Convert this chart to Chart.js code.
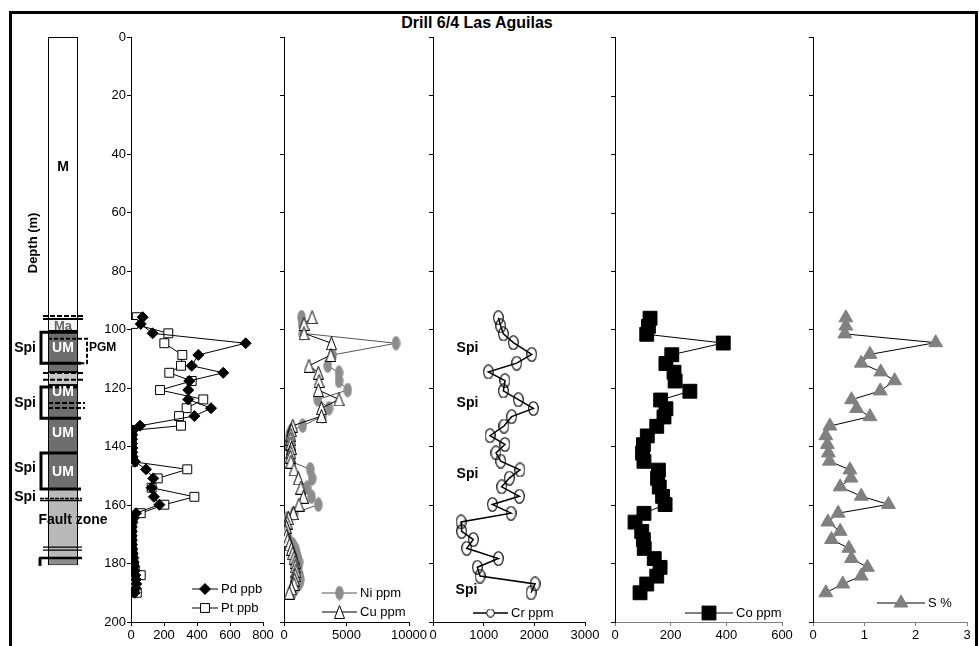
<!DOCTYPE html>
<html>
<head>
<meta charset="UTF-8">
<title>Drill 6/4 Las Aguilas</title>
<script src="https://cdn.jsdelivr.net/npm/chart.js@4.4.0/dist/chart.umd.min.js"></script>
<style>
  body { margin: 0; background: #fff; }
  #wrap { position: relative; width: 979px; height: 646px; overflow: hidden; }
  #frame { position: absolute; left: 9px; top: 11px; width: 963px; height: 700px; border: 3px solid #000; }
  #title { position: absolute; left: 377px; width: 200px; top: 14px; line-height: 16px; text-align: center;
           font: bold 16px "Liberation Sans", Arial, sans-serif; }
  canvas { position: absolute; }
</style>
</head>
<body>
<div id="wrap">
  <div id="frame"></div>
  <div id="title">Drill 6/4 Las Aguilas</div>
  <canvas id="litho"></canvas>
  <canvas id="p1"></canvas>
  <canvas id="p2"></canvas>
  <canvas id="p3"></canvas>
  <canvas id="p4"></canvas>
  <canvas id="p5"></canvas>
</div>
<script>
// PGE + base metal samples (m)
const pgeDepth = [95.8, 98.1, 101.3, 104.7, 108.7, 112.4, 114.8, 117.6, 120.7, 123.9, 126.9, 129.6, 132.9,
  134.5, 136, 137.5, 139, 140.5, 142, 143.5, 145.2, 147.8, 150.9, 154.1, 157.2, 159.9, 162.8,
  164.5, 166, 167.5, 169, 170.5, 172, 173.5, 175, 176.5, 178, 179.5, 181, 182.5, 184, 185.5, 187, 188.5, 190];
const pdPpb = [71, 59, 131, 695, 408, 368, 559, 353, 347, 347, 485, 384, 55,
  12, 8, 6, 6, 8, 8, 10, 24, 91, 135, 125, 139, 172, 30,
  15, 8, 5, 5, 4, 5, 6, 8, 10, 14, 16, 20, 22, 26, 30, 32, 28, 22];
const ptPpb = [35, 14, 226, 202, 311, 303, 232, 368, 176, 438, 337, 291, 303,
  5, 3, 3, 3, 3, 4, 5, 12, 341, 162, 125, 384, 202, 59,
  10, 3, 2, 2, 2, 3, 3, 5, 8, 10, 14, 18, 22, 59, 20, 25, 22, 35];
const niPpm = [1400, 1450, 1500, 8960, 3900, 3500, 4400, 4400, 5100, 2700, 3600, 3100, 1500,
  600, 450, 450, 400, 450, 500, 550, 600, 2100, 2250, 1850, 2200, 2750, 800,
  300, 200, 150, 150, 200, 400, 700, 900, 1000, 1100, 1200, 1150, 1100, 1250, 1300, 1200, 900, 700];
const cuPpm = [2250, 1600, 1600, 3800, 3750, 2000, 2750, 2800, 2750, 4400, 3000, 3000, 700,
  600, 550, 550, 550, 600, 550, 500, 550, 800, 1150, 1350, 1550, 1200, 750,
  350, 250, 200, 150, 200, 300, 450, 600, 700, 800, 880, 900, 950, 900, 850, 800, 600, 420];

// Cr, Co, S samples (m)
const depth = [96, 98.8, 101.5, 104.5, 108.5, 111.5, 114.5, 117.5, 121, 124, 127, 129.8, 133, 136.3, 139.3, 142.2,
  145, 148, 150.8, 153.8, 157, 159.8, 162.8, 165.8, 169, 171.8, 174.8, 178.3, 181.3, 184.3, 187, 190];
const crPpm = [1290, 1336, 1389, 1586, 1948, 1652, 1092, 1421, 1389, 1685, 1981, 1553, 1401, 1125, 1421, 1243,
  1336, 1717, 1507, 1356, 1704, 1171, 1540, 553, 566, 796, 665, 1290, 875, 928, 2014, 1935];
const coPpm = [126, 120, 114, 389, 204, 183, 212, 216, 269, 164, 183, 176, 150, 116, 102, 99,
  104, 156, 153, 159, 171, 180, 104, 72, 96, 102, 105, 141, 162, 150, 114, 90];
const sPct = [0.64, 0.64, 0.62, 2.39, 1.11, 0.94, 1.32, 1.59, 1.31, 0.75, 0.85, 1.11, 0.33, 0.25, 0.28, 0.30,
  0.32, 0.72, 0.74, 0.53, 0.94, 1.47, 0.49, 0.29, 0.53, 0.36, 0.70, 0.75, 1.06, 0.94, 0.58, 0.25];

// axes
const depthMax = 200, depthStep = 20;
const xMax = [800, 10000, 3000, 600, 3];
const xStep = [200, 5000, 1000, 200, 1];

// lithology log (m)
const unitName = ['M', 'Ma', 'UM', 'band', 'UM', 'Fault zone', 'base'];
const unitTop  = [0, 96.4, 100.5, 114.5, 119, 154.5, 178.1];
const unitBase = [96.4, 100.5, 114.5, 119, 154.5, 178.1, 180.6];
const spiTop  = [100.9, 119.7, 142.2];
const spiBase = [111.5, 130.3, 154.5];
const pgmZone = [103.2, 111.5];

const FONT = '"Liberation Sans", Arial, sans-serif';
const T = 37, B = 622;              // plot top / bottom on the page
const padT = 10, padB = 24, padL = 40, padR = 22;

function xy(xs, ys) { return xs.map((v, i) => ({ x: v, y: ys[i] })); }

function marker(w, h, draw) {
  const c = document.createElement('canvas');
  c.width = w; c.height = h;
  draw(c.getContext('2d'), w, h);
  return c;
}
const niMark = marker(9, 15, (g, w, h) => {
  g.fillStyle = '#8c8c8c'; g.beginPath();
  g.ellipse(w / 2, h / 2, w / 2 - 0.3, h / 2 - 0.3, 0, 0, 2 * Math.PI); g.fill();
});
const cuMark = marker(11, 14, (g, w, h) => {
  g.fillStyle = '#fff'; g.strokeStyle = '#000'; g.lineWidth = 1;
  g.beginPath(); g.moveTo(w / 2, 0.5); g.lineTo(w - 0.5, h - 0.5); g.lineTo(0.5, h - 0.5); g.closePath();
  g.fill(); g.stroke();
});
const crMark = marker(11, 15, (g, w, h) => {
  g.strokeStyle = '#000'; g.lineWidth = 1.1; g.beginPath();
  g.ellipse(w / 2, h / 2, w / 2 - 0.7, h / 2 - 0.7, 0, 0, 2 * Math.PI); g.stroke();
});
const crSmall = marker(9, 9, (g, w, h) => {
  g.fillStyle = '#fff'; g.strokeStyle = '#000'; g.lineWidth = 1; g.beginPath();
  g.ellipse(w / 2, h / 2, w / 2 - 0.6, h / 2 - 0.6, 0, 0, 2 * Math.PI); g.fill(); g.stroke();
});

// legend inside the plot: line - marker - label
const sideLegend = {
  id: 'sideLegend',
  afterDraw(chart, args, opts) {
    if (!opts.items) return;
    const ctx = chart.ctx, a = chart.chartArea;
    ctx.save();
    ctx.font = '13px ' + FONT;
    ctx.textBaseline = 'middle';
    opts.items.forEach(it => {
      const ds = chart.data.datasets[it.ds];
      const x0 = a.left + it.dx, y = a.bottom + it.dy;
      ctx.strokeStyle = ds.borderColor; ctx.lineWidth = ds.borderWidth;
      ctx.beginPath(); ctx.moveTo(x0, y); ctx.lineTo(x0 + it.len, y); ctx.stroke();
      ctx.fillStyle = ds.pointBackgroundColor; ctx.strokeStyle = ds.pointBorderColor;
      ctx.lineWidth = ds.pointBorderWidth;
      Chart.helpers.drawPoint(ctx, { pointStyle: it.mark || ds.pointStyle, radius: ds.pointRadius,
        borderWidth: ds.pointBorderWidth, rotation: 0 }, x0 + it.len / 2, y);
      ctx.fillStyle = '#000';
      ctx.fillText(ds.label, x0 + it.len + 3, y);
    });
    ctx.restore();
  }
};

// text notes at data positions
const notes = {
  id: 'notes',
  afterDraw(chart, args, opts) {
    if (!opts.items || !opts.items.length) return;
    const ctx = chart.ctx;
    ctx.save();
    ctx.font = 'bold 14px ' + FONT;
    ctx.fillStyle = '#000'; ctx.textAlign = 'center'; ctx.textBaseline = 'middle';
    opts.items.forEach(n => {
      ctx.fillText(n.text, chart.scales.x.getPixelForValue(n.x), chart.scales.y.getPixelForValue(n.y));
    });
    ctx.restore();
  }
};

function panel(id, k, left, right, datasets, opts) {
  const cv = document.getElementById(id);
  cv.width = right - left + padL + padR;
  cv.height = (B - T) + padT + padB;
  cv.style.left = (left - padL) + 'px';
  cv.style.top = (T - padT) + 'px';
  const axisColor = opts.axisColor || '#000';
  return new Chart(cv, {
    type: 'scatter',
    data: { datasets },
    options: {
      responsive: false, animation: false, events: [],
      layout: { padding: { top: padT, right: padR, left: 0, bottom: 0 } },
      plugins: {
        legend: { display: false }, tooltip: { enabled: false },
        sideLegend: { items: opts.legend }, notes: { items: opts.notes || [] }
      },
      scales: {
        x: {
          type: 'linear', position: 'bottom', min: 0, max: xMax[k],
          afterFit: s => { s.height = padB; },
          ticks: { stepSize: xStep[k], autoSkip: false, maxRotation: 0, padding: 2, color: '#000',
                   font: { family: FONT, size: 13 }, callback: v => String(v) },
          grid: { drawOnChartArea: false, tickLength: 4, color: axisColor },
          border: { color: axisColor }
        },
        y: {
          type: 'linear', position: 'left', reverse: true, min: 0, max: depthMax,
          afterFit: s => { s.width = padL; },
          ticks: { stepSize: depthStep, display: !!opts.yLabels, padding: 1, color: '#000',
                   font: { family: FONT, size: 13 } },
          grid: { drawOnChartArea: false, tickLength: 4, color: '#000' },
          border: { color: '#000' }
        }
      }
    },
    plugins: [sideLegend, notes]
  });
}

function series(label, xs, ys, style) {
  return Object.assign({ label, data: xy(xs, ys), showLine: true, borderColor: '#000', borderWidth: 1,
    pointBorderWidth: 1, pointBorderColor: '#000', pointBackgroundColor: '#000' }, style);
}

panel('p1', 0, 131, 263, [
  series('Pd ppb', pdPpb, pgeDepth, { pointStyle: 'rectRot', pointRadius: 5.5 }),
  series('Pt ppb', ptPpb, pgeDepth, { pointStyle: 'rect', pointRadius: 6.3, pointBackgroundColor: '#fff' })
], { yLabels: true, legend: [{ ds: 0, dx: 61, dy: -33, len: 26 }, { ds: 1, dx: 61, dy: -14, len: 26 }] });

panel('p2', 1, 284, 409, [
  series('Ni ppm', niPpm, pgeDepth, { pointStyle: niMark, pointRadius: 5, borderColor: '#555', order: 1 }),
  series('Cu ppm', cuPpm, pgeDepth, { pointStyle: cuMark, pointRadius: 5, order: 0 })
], { legend: [{ ds: 0, dx: 38, dy: -29, len: 35 }, { ds: 1, dx: 38, dy: -10, len: 35 }] });

panel('p3', 2, 433, 585, [
  series('Cr ppm', crPpm, depth, { pointStyle: crMark, pointRadius: 6, borderWidth: 1.5 })
], { legend: [{ ds: 0, dx: 40, dy: -9, len: 35, mark: crSmall }],
     notes: [{ text: 'Spi', x: 680, y: 106.5 }, { text: 'Spi', x: 680, y: 125.1 },
             { text: 'Spi', x: 680, y: 149.5 }, { text: 'Spi', x: 660, y: 189 }] });

panel('p4', 3, 615, 782, [
  series('Co ppm', coPpm, depth, { pointStyle: 'rect', pointRadius: 9.8 })
], { axisColor: '#808080', legend: [{ ds: 0, dx: 70, dy: -9, len: 48 }] });

panel('p5', 4, 813, 967, [
  series('S %', sPct, depth, { pointStyle: 'triangle', pointRadius: 8, pointBackgroundColor: '#808080',
    pointBorderColor: '#808080' })
], { axisColor: '#808080', legend: [{ ds: 0, dx: 64, dy: -19, len: 48 }] });

// lithological column
const unitColor = { 'M': '#ffffff', 'Ma': '#f4f4f4', 'UM': '#6e6e6e', 'band': '#c8c8c8',
                    'Fault zone': '#b9b9b9', 'base': '#8c8c8c' };

const lithoDraw = {
  id: 'lithoDraw',
  afterDatasetsDraw(chart) {
    const ctx = chart.ctx, ys = chart.scales.y;
    const bar = chart.getDatasetMeta(0).data[0].getProps(['x', 'width'], true);
    const L = bar.x - bar.width / 2, R = bar.x + bar.width / 2, C = bar.x;
    const Y = d => ys.getPixelForValue(d);
    ctx.save();
    ctx.strokeStyle = '#000';
    function hline(d, x0, x1, w, dash) {
      ctx.setLineDash(dash || []); ctx.lineWidth = w;
      ctx.beginPath(); ctx.moveTo(x0, Y(d)); ctx.lineTo(x1, Y(d)); ctx.stroke();
    }
    // contacts
    hline(95.4, L - 5, R + 7, 2, [5, 2]);
    hline(96.4, L - 5, R + 7, 2, [5, 2]);
    hline(114.9, L - 5, R + 7, 2, [5, 2]);
    hline(117.2, L - 5, R + 7, 2, [5, 2]);
    hline(125.1, L, R + 7, 2, [5, 2]);
    hline(126.8, L, R + 7, 2, [5, 2]);
    hline(157.8, L - 8, R + 4, 1.5, [4, 1]);
    hline(158.5, L - 8, R + 4, 1.5);
    hline(174.4, L - 5, R + 4, 1.2);
    hline(175.4, L - 5, R + 4, 1.2);
    hline(178.1, L - 9, R + 4, 2.5);
    ctx.setLineDash([]); ctx.lineWidth = 3;
    ctx.beginPath(); ctx.moveTo(L - 8, Y(178.1)); ctx.lineTo(L - 8, Y(180.8)); ctx.stroke();
    // spinel brackets
    spiTop.forEach((t, i) => {
      ctx.lineWidth = 3; ctx.setLineDash([]);
      ctx.beginPath();
      ctx.moveTo(R, Y(t)); ctx.lineTo(L - 7, Y(t)); ctx.lineTo(L - 7, Y(spiBase[i])); ctx.lineTo(R + 3, Y(spiBase[i]));
      ctx.stroke();
    });
    // PGM zone
    ctx.lineWidth = 2; ctx.setLineDash([4, 2]);
    ctx.beginPath();
    ctx.moveTo(L, Y(pgmZone[0])); ctx.lineTo(R + 9, Y(pgmZone[0]));
    ctx.lineTo(R + 9, Y(pgmZone[1])); ctx.lineTo(R, Y(pgmZone[1]));
    ctx.stroke();
    ctx.setLineDash([]);
    // labels
    ctx.textBaseline = 'middle';
    ctx.textAlign = 'center';
    ctx.font = 'bold 14px ' + FONT;
    ctx.fillStyle = '#000';
    ctx.fillText('M', C, Y(44.4));
    ctx.font = 'bold 13px ' + FONT;
    ctx.fillStyle = '#666';
    ctx.fillText('Ma', C, Y(99));
    ctx.font = 'bold 14px ' + FONT;
    ctx.fillStyle = '#fff';
    [106.3, 121.4, 135.4, 148.7].forEach(d => ctx.fillText('UM', C, Y(d)));
    ctx.fillStyle = '#000';
    ctx.fillText('Fault zone', C + 10, Y(165.1));
    ctx.textAlign = 'right';
    [106.3, 125.1, 147.4, 157.3].forEach(d => ctx.fillText('Spi', L - 12, Y(d)));
    ctx.textAlign = 'left';
    ctx.font = 'bold 12px ' + FONT;
    ctx.fillText('PGM', R + 11, Y(106.3));
    // depth title
    ctx.translate(33, Y(70.4));
    ctx.rotate(-Math.PI / 2);
    ctx.textAlign = 'center';
    ctx.font = 'bold 13px ' + FONT;
    ctx.fillText('Depth (m)', 0, 0);
    ctx.restore();
  }
};

const lc = document.getElementById('litho');
lc.width = 130; lc.height = (B - T) + padT + padB;
lc.style.left = '0px'; lc.style.top = (T - padT) + 'px';
new Chart(lc, {
  type: 'bar',
  data: {
    labels: ['6/4'],
    datasets: unitName.map((u, i) => ({
      label: u, data: [[unitTop[i], unitBase[i]]], backgroundColor: unitColor[u],
      borderColor: '#000', borderWidth: 1, borderSkipped: false, grouped: false,
      barPercentage: 0.3, categoryPercentage: 1
    }))
  },
  options: {
    responsive: false, animation: false, events: [],
    layout: { padding: { left: 13, right: 17, top: padT, bottom: padB } },
    plugins: { legend: { display: false }, tooltip: { enabled: false } },
    scales: {
      x: { display: false },
      y: { display: false, reverse: true, min: 0, max: depthMax }
    }
  },
  plugins: [lithoDraw]
});
</script>
</body>
</html>
